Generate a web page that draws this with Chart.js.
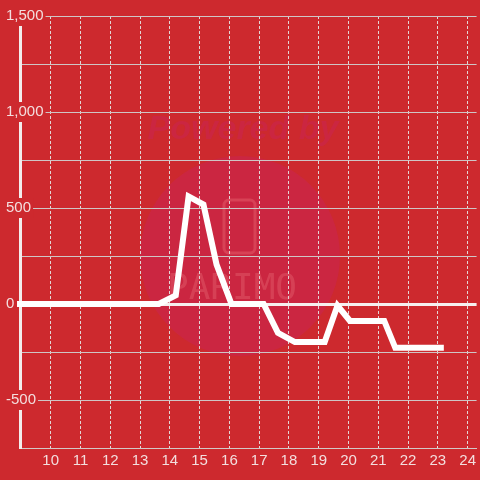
<!DOCTYPE html>
<html>
<head>
<meta charset="utf-8">
<script src="https://cdn.jsdelivr.net/npm/chart.js@4/dist/chart.umd.min.js"></script>
<style>
  html, body { margin: 0; padding: 0; background: #cd292e; }
  #wrap { width: 480px; height: 480px; }
</style>
</head>
<body>
<div id="wrap"><canvas id="chart" width="480" height="480"></canvas></div>
<script>
// values
const xValues = [8.87, 13.63, 14.2, 14.63, 15.13, 15.57, 16.07, 17.15, 17.63, 18.2, 19.2, 19.63, 20.05, 21.2, 21.57, 23.2];
const yValues = [0, 0, 45, 560, 518, 205, 0, 0, -150, -198, -198, -8, -88, -88, -228, -228];
const xTicks = [10, 11, 12, 13, 14, 15, 16, 17, 18, 19, 20, 21, 22, 23, 24];
const yTicks = [-750, -500, -250, 0, 250, 500, 750, 1000, 1250, 1500];

const bgRed = '#cd292e';
const labelColor = '#f3dede';

// faint "Powered by" watermark behind the plot
const watermark = {
  id: 'watermark',
  beforeDraw(chart) {
    const c = chart.ctx;
    c.save();
    c.fillStyle = bgRed;
    c.fillRect(0, 0, chart.width, chart.height);
    c.fillStyle = 'rgba(200,35,100,0.35)';
    c.beginPath();
    c.arc(240, 256, 100, 0, Math.PI * 2);
    c.fill();
    c.font = 'italic bold 34px "Liberation Sans", Arial, sans-serif';
    c.textAlign = 'center';
    c.textBaseline = 'middle';
    c.fillText('Powered by', 243, 130);
    c.strokeStyle = 'rgba(255,150,150,0.25)';
    c.lineWidth = 3;
    c.beginPath();
    c.roundRect(224, 200, 31, 53, 5);
    c.stroke();
    c.font = '36px "DejaVu Sans Mono", monospace';
    c.fillStyle = 'rgba(255,160,160,0.22)';
    c.fillText('PARIMO', 232, 290);
    c.restore();
  }
};

const points = xValues.map((x, i) => ({ x: x, y: yValues[i] }));

new Chart(document.getElementById('chart').getContext('2d'), {
  type: 'line',
  data: {
    datasets: [{
      data: points,
      borderColor: '#ffffff',
      borderWidth: 6,
      borderJoinStyle: 'miter',
      pointRadius: 0,
      tension: 0,
      fill: false,
      clip: false
    }]
  },
  options: {
    responsive: false,
    animation: false,
    layout: { padding: { top: 16, left: 20, right: 0, bottom: 6 } },
    plugins: { legend: { display: false }, tooltip: { enabled: false } },
    scales: {
      x: {
        type: 'linear',
        min: 8.97,
        max: 24.3,
        afterBuildTicks: (scale) => { scale.ticks = xTicks.map(v => ({ value: v })); },
        grid: { color: '#e2d6d6', lineWidth: 1, drawTicks: false },
        // dotted vertical grid lines
        border: { display: true, color: '#d2c8c8', width: 1, dash: [3, 2] },
        ticks: {
          color: labelColor,
          padding: 4,
          maxRotation: 0,
          autoSkip: false,
          font: { family: '"Liberation Sans", Arial, sans-serif', size: 15 }
        }
      },
      y: {
        type: 'linear',
        min: -750,
        max: 1500,
        afterBuildTicks: (scale) => { scale.ticks = yTicks.map(v => ({ value: v })); },
        // mirrored labels sit over the axis line, so the scale itself takes no room
        afterFit: (scale) => { scale.width = 0; },
        grid: {
          drawTicks: false,
          color: (ctx) => ctx.tick && ctx.tick.value === 0 ? '#f6efef' : '#cfc5c5',
          lineWidth: (ctx) => ctx.tick && ctx.tick.value === 0 ? 3 : 1
        },
        border: { display: true, color: '#f3eded', width: 3 },
        ticks: {
          mirror: true,
          crossAlign: 'near',
          padding: -14,
          autoSkip: false,
          color: labelColor,
          font: { family: '"Liberation Sans", Arial, sans-serif', size: 15 },
          showLabelBackdrop: (ctx) => ctx.tick && ctx.tick.value % 500 === 0,
          backdropColor: bgRed,
          backdropPadding: { x: 2, y: 1 },
          callback: (v) => v % 500 === 0 ? v.toLocaleString('en-US') : ''
        }
      }
    }
  },
  plugins: [watermark]
});
</script>
</body>
</html>
